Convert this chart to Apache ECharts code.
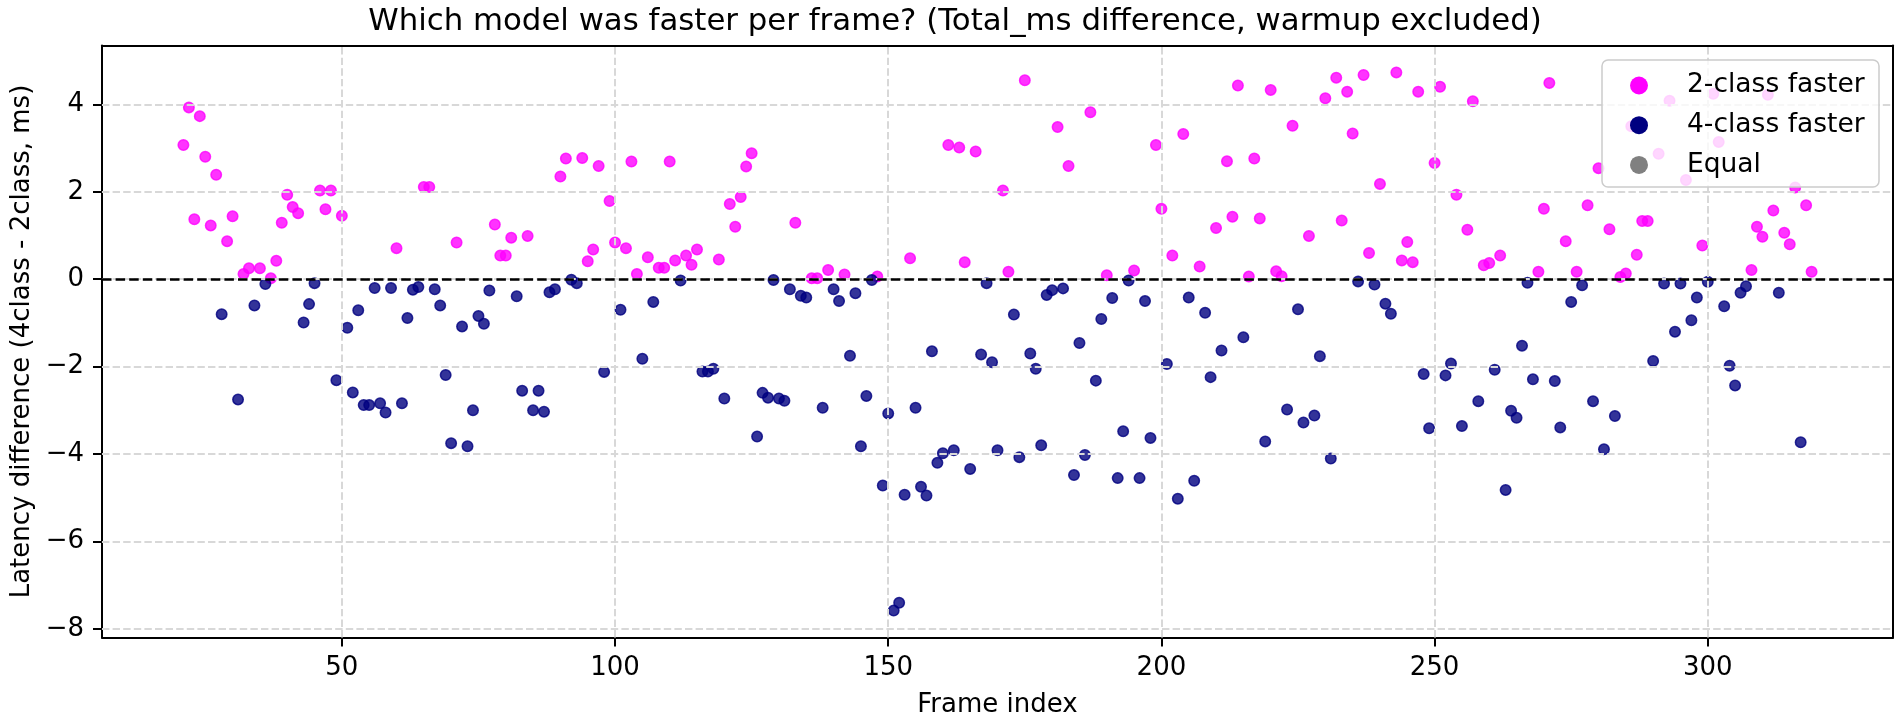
<!DOCTYPE html>
<html>
<head>
<meta charset="utf-8">
<script src="https://cdn.jsdelivr.net/npm/echarts@6/dist/echarts.min.js"></script>
<style>
html,body{margin:0;padding:0;background:#ffffff;}
#chart{width:1900px;height:721px;}
</style>
</head>
<body>
<div id="chart"></div>
<script>
// ---------------- data ----------------
const frames = [
  21,22,23,24,25,26,27,28,29,30,31,32,33,34,35,36,37,38,39,40,
  41,42,43,44,45,46,47,48,49,50,51,52,53,54,55,56,57,58,59,60,
  61,62,63,64,65,66,67,68,69,70,71,72,73,74,75,76,77,78,79,80,
  81,82,83,84,85,86,87,88,89,90,91,92,93,94,95,96,97,98,99,100,
  101,102,103,104,105,106,107,108,109,110,111,112,113,114,115,116,117,118,119,120,
  121,122,123,124,125,126,127,128,129,130,131,132,133,134,135,136,137,138,139,140,
  141,142,143,144,145,146,147,148,149,150,151,152,153,154,155,156,157,158,159,160,
  161,162,163,164,165,166,167,168,169,170,171,172,173,174,175,176,177,178,179,180,
  181,182,183,184,185,186,187,188,189,190,191,192,193,194,195,196,197,198,199,200,
  201,202,203,204,205,206,207,208,209,210,211,212,213,214,215,216,217,218,219,220,
  221,222,223,224,225,226,227,228,229,230,231,232,233,234,235,236,237,238,239,240,
  241,242,243,244,245,246,247,248,249,250,251,252,253,254,255,256,257,258,259,260,
  261,262,263,264,265,266,267,268,269,270,271,272,273,274,275,276,277,278,279,280,
  281,282,283,284,285,286,287,288,289,290,291,292,293,294,295,296,297,298,299,300,
  301,302,303,304,305,306,307,308,309,310,311,312,313,314,315,316,317,318,319
];
const diffMs = [
  3.07,3.93,1.37,3.73,2.80,1.23,2.39,-0.80,0.87,1.44,-2.75,0.12,0.25,-0.60,0.25,-0.11,0.02,0.42,1.29,1.93,
  1.65,1.51,-0.99,-0.57,-0.09,2.03,1.60,2.03,-2.31,1.45,-1.11,-2.59,-0.71,-2.88,-2.88,-0.20,-2.84,-3.05,-0.20,0.71,
  -2.84,-0.89,-0.24,-0.18,2.11,2.11,-0.23,-0.60,-2.19,-3.75,0.84,-1.08,-3.82,-3.00,-0.84,-1.02,-0.26,1.25,0.54,0.54,
  0.95,-0.39,-2.55,0.99,-3.00,-2.55,-3.03,-0.30,-0.23,2.35,2.76,-0.01,-0.09,2.77,0.41,0.68,2.59,-2.12,1.79,0.84,
  -0.70,0.71,2.69,0.12,-1.82,0.50,-0.52,0.26,0.26,2.69,0.43,-0.03,0.54,0.33,0.68,-2.11,-2.11,-2.05,0.45,-2.73,
  1.72,1.20,1.88,2.58,2.88,-3.60,-2.60,-2.71,-0.02,-2.73,-2.78,-0.23,1.29,-0.38,-0.42,0.02,0.02,-2.94,0.21,-0.23,
  -0.50,0.11,-1.75,-0.32,-3.82,-2.67,-0.02,0.06,-4.72,-3.07,-7.58,-7.40,-4.93,0.48,-2.94,-4.75,-4.95,-1.65,-4.20,-3.98,
  3.07,-3.91,3.01,0.39,-4.34,2.92,-1.72,-0.09,-1.90,-3.91,2.03,0.17,-0.81,-4.07,4.55,-1.70,-2.05,-3.80,-0.36,-0.25,
  3.48,-0.21,2.59,-4.48,-1.46,-4.02,3.82,-2.32,-0.91,0.09,-0.43,-4.55,-3.48,-0.03,0.20,-4.55,-0.50,-3.63,3.07,1.61,
  -1.94,0.54,-5.02,3.32,-0.42,-4.61,0.29,-0.77,-2.24,1.17,-1.63,2.70,1.43,4.43,-1.33,0.06,2.76,1.39,-3.71,4.33,
  0.18,0.07,-2.98,3.51,-0.69,-3.28,0.99,-3.12,-1.76,4.14,-4.10,4.61,1.34,4.29,3.33,-0.05,4.67,0.60,-0.12,2.18,
  -0.56,-0.79,4.73,0.43,0.85,0.39,4.29,-2.17,-3.41,2.66,4.40,-2.20,-1.93,1.93,-3.36,1.13,4.07,-2.79,0.32,0.37,
  -2.07,0.54,-4.82,-3.01,-3.17,-1.52,-0.08,-2.29,0.17,1.61,4.49,-2.33,-3.39,0.87,-0.52,0.17,-0.14,1.69,-2.79,2.54,
  -3.89,1.14,-3.13,0.05,0.13,3.50,0.56,1.33,1.33,-1.87,2.87,-0.10,4.08,-1.20,-0.10,2.27,-0.94,-0.42,0.77,-0.06,
  4.24,3.14,-0.62,-1.98,-2.43,-0.31,-0.16,0.21,1.20,0.97,4.22,1.57,-0.31,1.06,0.80,2.10,-3.73,1.69,0.17
];
const xTicks = [50, 100, 150, 200, 250, 300];
const yTicks = [-8, -6, -4, -2, 0, 2, 4];
const seriesNames = ['2-class faster', '4-class faster', 'Equal'];
const seriesColors = ['#ff00ff', '#000080', '#808080'];
const titleText = 'Which model was faster per frame? (Total_ms difference, warmup excluded)';
const xLabel = 'Frame index';
const yLabel = 'Latency difference (4class - 2class, ms)';

// ---------------- build ----------------
const FONT = '"DejaVu Sans", sans-serif';
const faster2 = [], faster4 = [], equal = [];
frames.forEach((f, i) => {
  const v = diffMs[i];
  if (v > 0) faster2.push([f, v]);
  else if (v < 0) faster4.push([f, v]);
  else equal.push([f, v]);
});

function padRange(arr) {
  const lo = Math.min(...arr), hi = Math.max(...arr);
  const m = (hi - lo) * 0.05;
  return [lo - m, hi + m];
}
const [xMin, xMax] = padRange(frames);
const [yMin, yMax] = padRange(diffMs);

const fmt = v => (v < 0 ? '\u2212' + Math.abs(v) : String(v));
const axisLineStyle = { color: '#000', width: 2 };

const chart = echarts.init(document.getElementById('chart'), null, { renderer: 'canvas' });

const pointStyle = (c) => ({ color: c, opacity: 0.8, borderColor: c, borderWidth: 1.5 });

const option = {
  animation: false,
  backgroundColor: '#ffffff',
  textStyle: { fontFamily: FONT },
  title: {
    text: titleText,
    left: 950,
    top: 1,
    textAlign: 'center',
    textStyle: { fontFamily: FONT, fontSize: 30.8, fontWeight: 'normal', color: '#000' }
  },
  grid: { left: 102, right: 7, top: 45.5, bottom: 83.5, containLabel: false, outerBoundsMode: 'none' },
  legend: {
    orient: 'vertical',
    left: 1630,
    top: 70.5,
    padding: 0,
    itemWidth: 18,
    itemHeight: 18,
    itemGap: 9.7,
    icon: 'circle',
    selectedMode: false,
    zlevel: 2,
    z: 10,
    formatter: name => '{gap|\u00a0}{txt|' + name + '}',
    textStyle: {
      fontFamily: FONT, fontSize: 26.5, color: '#000', lineHeight: 30,
      rich: {
        gap: { width: 34, fontSize: 26.5, lineHeight: 30 },
        txt: { fontFamily: FONT, fontSize: 26.5, color: '#000', lineHeight: 30 }
      }
    },
    data: seriesNames.map((n, i) => ({ name: n, itemStyle: { color: seriesColors[i], opacity: 1, borderWidth: 0 } }))
  },
  graphic: [{
    type: 'rect',
    zlevel: 1,
    z: 9,
    shape: { x: 1602, y: 60, width: 277, height: 127, r: 6 },
    style: { fill: 'rgba(255,255,255,0.8)', stroke: '#cccccc', lineWidth: 1.5 },
    silent: true
  }],
  xAxis: [{
    type: 'value', min: xMin, max: xMax,
    name: xLabel, nameLocation: 'middle', nameGap: 55,
    nameTextStyle: { fontFamily: FONT, fontSize: 26, color: '#000' },
    axisLine: { show: true, onZero: false, lineStyle: axisLineStyle },
    axisTick: { show: true, customValues: xTicks, length: 9, lineStyle: axisLineStyle },
    axisLabel: { customValues: xTicks, fontFamily: FONT, fontSize: 26, color: '#000', margin: 18, formatter: fmt },
    splitLine: { show: false }
  }, {
    type: 'value', min: xMin, max: xMax, position: 'top',
    axisLine: { show: true, onZero: false, lineStyle: axisLineStyle },
    axisTick: { show: false }, axisLabel: { show: false }, splitLine: { show: false }
  }],
  yAxis: [{
    type: 'value', min: yMin, max: yMax,
    name: yLabel, nameLocation: 'middle', nameGap: 66,
    nameTextStyle: { fontFamily: FONT, fontSize: 26, color: '#000' },
    axisLine: { show: true, onZero: false, lineStyle: axisLineStyle },
    axisTick: { show: true, customValues: yTicks, length: 9, lineStyle: axisLineStyle },
    axisLabel: { customValues: yTicks, fontFamily: FONT, fontSize: 26, color: '#000', margin: 18, formatter: fmt },
    splitLine: { show: false }
  }, {
    type: 'value', min: yMin, max: yMax, position: 'right',
    axisLine: { show: true, onZero: false, lineStyle: axisLineStyle },
    axisTick: { show: false }, axisLabel: { show: false }, splitLine: { show: false }
  }],
  series: [
    {
      name: '_grid', type: 'scatter', data: [], silent: true, z: 1,
      markLine: {
        silent: true, symbol: ['none', 'none'], label: { show: false }, animation: false,
        lineStyle: { color: '#d8d8d8', type: [7.4, 3.2], width: 2 },
        emphasis: { disabled: true },
        data: xTicks.map(v => ({ xAxis: v })).concat(yTicks.map(v => ({ yAxis: v })))
      }
    },
    {
      name: seriesNames[0], type: 'scatter', data: faster2, symbolSize: 10.5, z: 3,
      itemStyle: pointStyle(seriesColors[0]), emphasis: { disabled: true }
    },
    {
      name: seriesNames[1], type: 'scatter', data: faster4, symbolSize: 10.5, z: 3,
      itemStyle: pointStyle(seriesColors[1]), emphasis: { disabled: true }
    },
    {
      name: seriesNames[2], type: 'scatter', data: equal, symbolSize: 10.5, z: 3,
      itemStyle: pointStyle(seriesColors[2]), emphasis: { disabled: true }
    },
    {
      name: '_zero', type: 'scatter', data: [], silent: true, z: 5,
      markLine: {
        silent: true, symbol: ['none', 'none'], label: { show: false }, animation: false,
        lineStyle: { color: '#000', type: [9.5, 4.1], width: 2.5 },
        emphasis: { disabled: true },
        data: [{ yAxis: 0 }]
      }
    }
  ]
};
chart.setOption(option);
</script>
</body>
</html>
